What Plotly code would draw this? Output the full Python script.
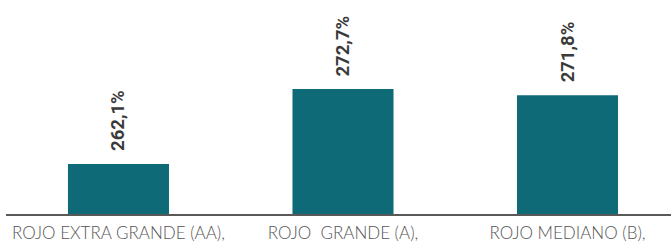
import plotly.graph_objects as go

categories = ["ROJO EXTRA GRANDE (AA),", "ROJO  GRANDE (A),", "ROJO MEDIANO (B),"]
values = [262.1, 272.7, 271.8]
value_labels = ["262,1%", "272,7%", "271,8%"]

bar_color = "#0f6a78"

fig = go.Figure()
fig.add_trace(go.Bar(
    x=categories, y=values, marker=dict(color=bar_color, line=dict(width=0)),
    hoverinfo="skip",
))

for c, v, t in zip(categories, values, value_labels):
    fig.add_annotation(
        x=c, y=v, text=t, showarrow=False, textangle=-90,
        yanchor="bottom", xanchor="center", yshift=11,
        font=dict(family="Roboto", size=18.5, color="#3a3a3a", weight="bold"),
    )

fig.update_layout(
    width=671, height=243,
    margin=dict(l=6, r=0, t=0, b=29, autoexpand=False),
    paper_bgcolor="white", plot_bgcolor="white",
    bargap=0.55, showlegend=False,
    xaxis=dict(
        range=[-0.501, 2.461], showgrid=False, zeroline=False, automargin=False,
        showline=True, linecolor="#595959", linewidth=1.5,
        ticks="", ticklabelstandoff=3,
        tickfont=dict(family="Lato", size=17, color="#555555", weight=300),
    ),
    yaxis=dict(range=[255.03, 285.28], visible=False, showgrid=False,
               zeroline=False, automargin=False),
)

fig.write_html("out.html", config={"displayModeBar": False, "staticPlot": True})
with open("out.html", encoding="utf-8") as f:
    html = f.read()
html = html.replace("<head>", "<head><style>html,body{margin:0;padding:0;overflow:hidden;}</style>", 1)
with open("out.html", "w", encoding="utf-8") as f:
    f.write(html)
